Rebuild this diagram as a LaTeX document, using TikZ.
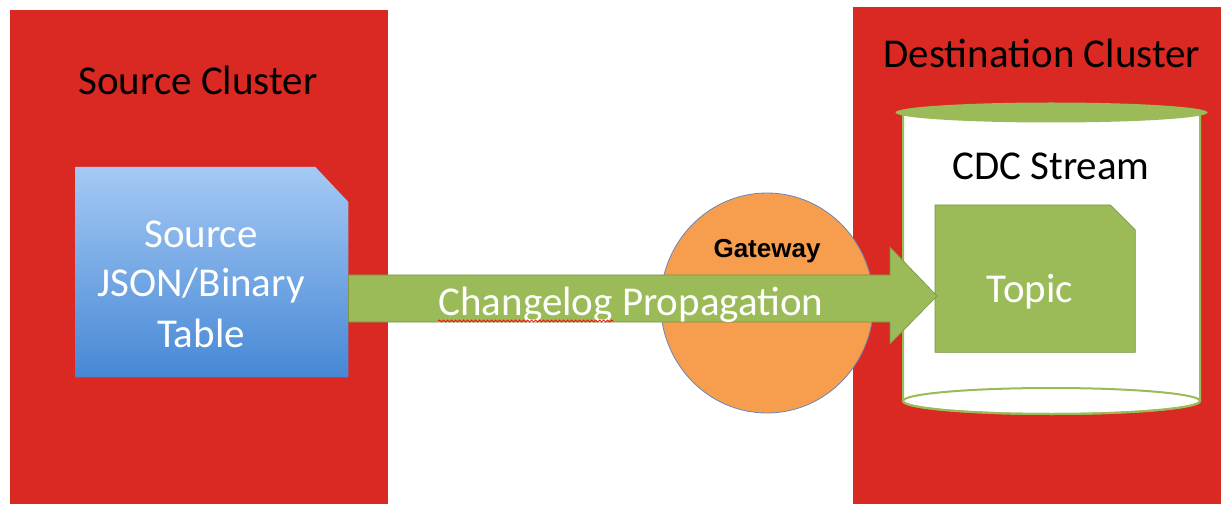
\documentclass[tikz,border=0pt]{standalone}
\usepackage{fontspec}
\setmainfont{Carlito}
\newfontfamily\arialfont{Liberation Sans}
\usetikzlibrary{calc,shapes.geometric,decorations.pathmorphing}
\definecolor{clred}{RGB}{218,41,34}
\definecolor{blueTop}{RGB}{165,201,244}
\definecolor{blueBot}{RGB}{70,136,213}
\definecolor{lgreen}{RGB}{155,187,89}
\definecolor{dgreen}{RGB}{120,148,66}
\definecolor{orng}{RGB}{247,157,78}
\definecolor{oline}{RGB}{105,135,185}
\begin{document}
\begin{tikzpicture}[x=1pt,y=-1pt,
  cluster/.style={fill=clred, draw=none, inner sep=0pt, anchor=north west},
  boxnode/.style={draw=none, inner sep=0pt, anchor=north west},
  big/.style={font=\fontsize{41}{50}\selectfont, anchor=base, inner sep=0pt},
  gwfont/.style={font=\arialfont\bfseries\fontsize{26}{30}\selectfont, anchor=base, inner sep=0pt},
  cylline/.style={draw=lgreen, line width=2pt}
]
\useasboundingbox (0,0) rectangle (1231,529);
\fill[white] (0,0) rectangle (1231,529);

% clusters
\node[cluster, minimum width=378pt, minimum height=494pt] (src) at (10,10) {};
\node[cluster, minimum width=368pt, minimum height=497pt] (dst) at (853,7) {};

% source table (chamfered)
\node[boxnode, minimum width=273pt, minimum height=210pt] (tbl) at (75,167) {};
\path[top color=blueTop, bottom color=blueBot]
  (tbl.south west) -- (tbl.north west) -- ([xshift=-33pt]tbl.north east)
  -- ([yshift=-35pt]tbl.north east) -- (tbl.south east) -- cycle;

% cylinder
\coordinate (cyl) at (1051.5,112);
\path[fill=white, cylline] (903,112) -- (903,401)
  arc[start angle=180, end angle=360, x radius=148.5pt, y radius=13pt]
  -- (1200,112) -- cycle;
\draw[cylline] (1051.5,401) ellipse[x radius=148.5pt, y radius=13pt];
\fill[lgreen] (1051.5,112.5) ellipse[x radius=156pt, y radius=10pt];

% topic (chamfered)
\node[boxnode, minimum width=200pt, minimum height=147pt] (topic) at (935,205) {};
\path[fill=lgreen, draw=dgreen, line width=0.6pt]
  (topic.south west) -- (topic.north west) -- ([xshift=-25pt]topic.north east)
  -- ([yshift=-25pt]topic.north east) -- (topic.south east) -- cycle;

% gateway
\node[ellipse, fill=orng, draw=oline, line width=0.8pt, minimum width=213pt,
      minimum height=220pt, inner sep=0pt] (gw) at (767,303) {};

% arrow
\coordinate (axis) at (0,296);
\path[fill=lgreen, draw=dgreen, line width=0.6pt]
  ($(tbl.east|-axis)+(0,-21)$) -- ($(topic.west|-axis)+(-45,-21)$)
  -- ($(topic.west|-axis)+(-45,-49)$) -- ($(topic.west|-axis)+(2,0)$)
  -- ($(topic.west|-axis)+(-45,48)$) -- ($(topic.west|-axis)+(-45,26)$)
  -- ($(tbl.east|-axis)+(0,26)$) -- cycle;

% texts
\node[big] (srcT) at (198,95) {Source Cluster};
\node[big] (dstT) at (1042,68) {Destination Cluster};
\node[big] (cdcT) at (1051,180) {CDC Stream};
\node[big, text=white] (s1) at (201,248) {Source};
\node[big, text=white] (s2) at (201,297) {JSON/Binary};
\node[big, text=white] (s3) at (201,347) {Table};
\node[big, text=white] (topT) at (1030,302) {Topic};
\node[gwfont] (gwT) at (767,258) {Gateway};
\node[big, text=white] (chT) at (631,316) {Changelog Propagation};
\draw[red, line width=0.8pt, decorate, decoration={snake, amplitude=1pt, segment length=4pt}]
  ($(chT.base west)+(0,5)$) -- ($(chT.base west)+(175,5)$);
\end{tikzpicture}
\end{document}
